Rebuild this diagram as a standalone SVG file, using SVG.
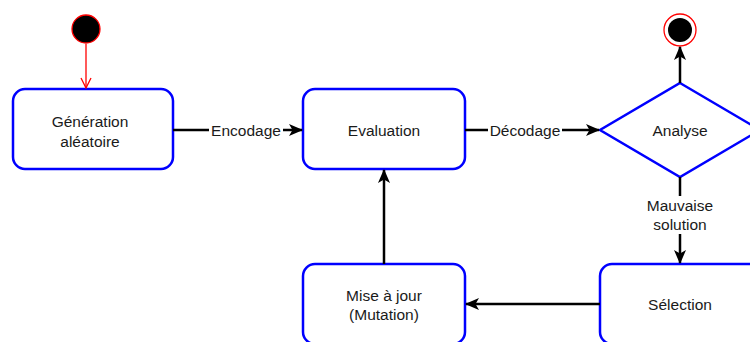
<svg xmlns="http://www.w3.org/2000/svg" width="750" height="342" viewBox="0 0 750 342">
<style>
.node{fill:#fff;stroke:#0000ff;stroke-width:2.5}
.t{font-family:"Liberation Sans",Arial,sans-serif;font-size:15.5px;fill:#1a1a1a;text-anchor:middle;dominant-baseline:central}
.edge{stroke:#000;stroke-width:2.5;fill:none}
.lbl{fill:#fff}
</style>
<defs>
<marker id="arr" viewBox="0 0 14 12" refX="13" refY="6" markerWidth="14" markerHeight="12" markerUnits="userSpaceOnUse" orient="auto">
<path d="M0,0 L14,6 L0,12 L3.5,6 z" fill="#000"/>
</marker>
<marker id="open" viewBox="0 0 12 12" refX="6" refY="11" markerWidth="12" markerHeight="12" markerUnits="userSpaceOnUse" orient="0">
<path d="M1,1 L6,11 L11,1" fill="none" stroke="#ff0000" stroke-width="1.3"/>
</marker>
</defs>
<g id="start"><circle cx="86" cy="29" r="14" fill="#000" stroke="#ff0000" stroke-width="1.3"/></g>
<g id="end"><circle cx="680" cy="30" r="16" fill="#fff" stroke="#ff0000" stroke-width="1.3"/><circle cx="680" cy="30" r="12" fill="#000"/></g>
<g id="generation"><rect class="node" x="13" y="89" width="160" height="80" rx="12"/><text class="t" x="90" y="121">Génération</text><text class="t" x="90" y="141">aléatoire</text></g>
<g id="evaluation"><rect class="node" x="303" y="89" width="162" height="80" rx="12"/><text class="t" x="384" y="130">Evaluation</text></g>
<g id="analyse"><path class="node" d="M680,83 L760,130 L680,177 L600,130 Z"/><text class="t" x="680" y="130">Analyse</text></g>
<g id="selection"><rect class="node" x="600" y="264" width="162" height="80" rx="12"/><text class="t" x="680" y="304">Sélection</text></g>
<g id="mise"><rect class="node" x="303" y="264" width="162" height="80" rx="12"/><text class="t" x="384" y="295">Mise à jour</text><text class="t" x="384" y="314">(Mutation)</text></g>
<g id="connectors">
<line x1="86" y1="44" x2="86" y2="88" stroke="#ff0000" stroke-width="1.3" marker-end="url(#open)"/>
<line class="edge" x1="173" y1="130" x2="302" y2="130" marker-end="url(#arr)"/>
<rect class="lbl" x="209" y="121" width="74" height="18"/>
<text class="t" x="246" y="130">Encodage</text>
<line class="edge" x1="465" y1="130" x2="599" y2="130" marker-end="url(#arr)"/>
<rect class="lbl" x="488" y="121" width="74" height="18"/>
<text class="t" x="525" y="130">Décodage</text>
<line class="edge" x1="680" y1="83" x2="680" y2="47" marker-end="url(#arr)"/>
<line class="edge" x1="680" y1="177" x2="680" y2="263" marker-end="url(#arr)"/>
<rect class="lbl" x="640" y="196" width="80" height="38"/>
<text class="t" x="680" y="205">Mauvaise</text>
<text class="t" x="680" y="224">solution</text>
<line class="edge" x1="600" y1="304" x2="466" y2="304" marker-end="url(#arr)"/>
<line class="edge" x1="384" y1="264" x2="384" y2="170" marker-end="url(#arr)"/>
</g>
</svg>
